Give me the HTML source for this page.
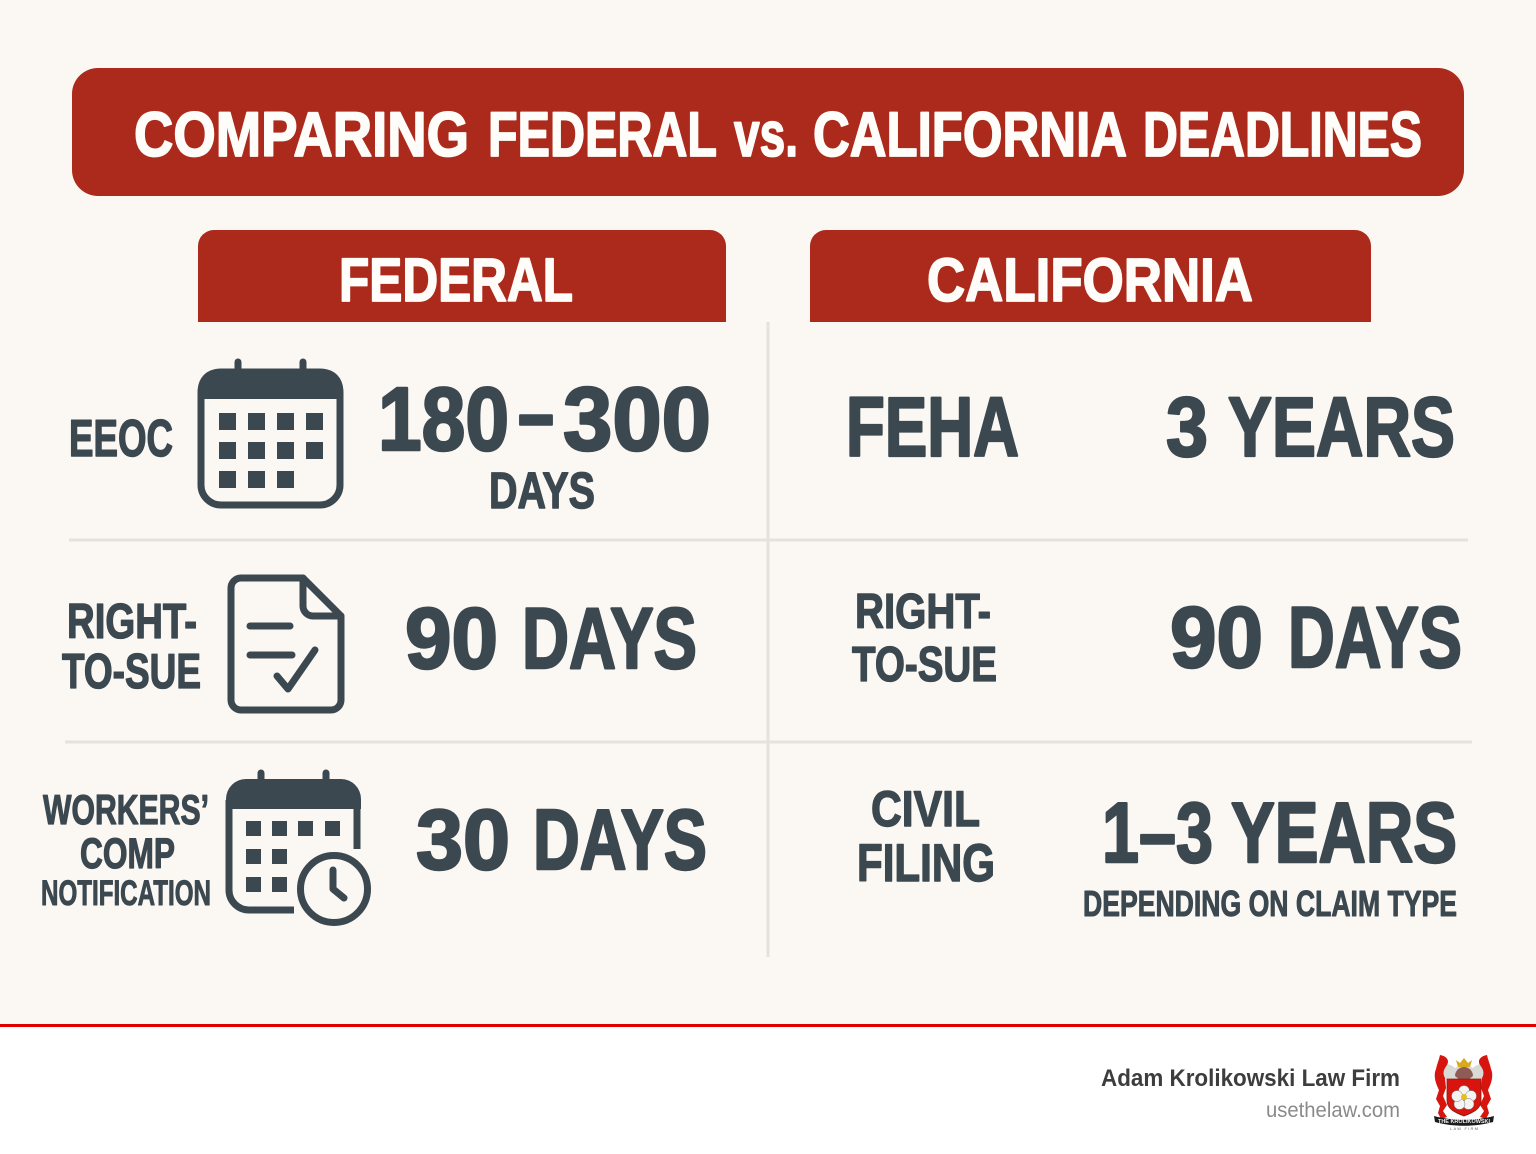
<!DOCTYPE html>
<html lang="en">
<head>
<meta charset="utf-8">
<title>Comparing Federal vs. California Deadlines</title>
<style>
html,body{margin:0;padding:0;background:#fbf8f3}
svg{display:block}
text{font-family:"Liberation Sans",sans-serif;font-weight:700;fill:#3c4850;stroke:#3c4850;stroke-width:.028em;stroke-linejoin:round}
text.w{fill:#fffdfa;stroke:#fffdfa}
text.f{stroke:none}
</style>
</head>
<body>
<svg xmlns="http://www.w3.org/2000/svg" width="1536" height="1154" viewBox="0 0 1536 1154">
<rect width="1536" height="1026" fill="#fbf8f3"/>
<rect x="72" y="68" width="1392" height="128" rx="26" fill="#ac2a1c"/>
<g>
<text class="w" x="134" y="156" font-size="63" textLength="335" lengthAdjust="spacingAndGlyphs">COMPARING</text>
<text class="w" x="488" y="156" font-size="63" textLength="229" lengthAdjust="spacingAndGlyphs">FEDERAL</text>
<text class="w" x="734" y="156" font-size="63" textLength="64" lengthAdjust="spacingAndGlyphs">vs.</text>
<text class="w" x="813" y="156" font-size="63" textLength="314" lengthAdjust="spacingAndGlyphs">CALIFORNIA</text>
<text class="w" x="1143" y="156" font-size="63" textLength="279" lengthAdjust="spacingAndGlyphs">DEADLINES</text>
</g>

<path d="M198 322V246a16 16 0 0 1 16-16H710a16 16 0 0 1 16 16V322Z" fill="#ac2a1c"/>
<text class="w" x="339" y="301" font-size="61" textLength="234" lengthAdjust="spacingAndGlyphs">FEDERAL</text>
<path d="M810 322V246a16 16 0 0 1 16-16H1355a16 16 0 0 1 16 16V322Z" fill="#ac2a1c"/>
<text class="w" x="927" y="301" font-size="61" textLength="326" lengthAdjust="spacingAndGlyphs">CALIFORNIA</text>

<g stroke="#e3e2dd" stroke-width="3" fill="none">
<path d="M768 322V957"/>
<path d="M69 540H1468"/>
<path d="M65 742H1472"/>
</g>

<!-- Row 1 -->
<text x="69" y="456" font-size="52" textLength="104" lengthAdjust="spacingAndGlyphs">EEOC</text>
<g>
<path d="M238 362V374M303 362V374" stroke="#3c4850" stroke-width="7" stroke-linecap="round"/>
<rect x="201" y="372" width="139" height="133" rx="20" fill="none" stroke="#3c4850" stroke-width="7"/>
<path d="M198 399V389a20 20 0 0 1 20-20H323a20 20 0 0 1 20 20V399Z" fill="#3c4850"/>
<g fill="#3c4850">
<rect x="219" y="413" width="17" height="17"/><rect x="248" y="413" width="17" height="17"/><rect x="277" y="413" width="17" height="17"/><rect x="306" y="413" width="17" height="17"/>
<rect x="219" y="442" width="17" height="17"/><rect x="248" y="442" width="17" height="17"/><rect x="277" y="442" width="17" height="17"/><rect x="306" y="442" width="17" height="17"/>
<rect x="219" y="471" width="17" height="17"/><rect x="248" y="471" width="17" height="17"/><rect x="277" y="471" width="17" height="17"/>
</g>
</g>
<g>
<text x="378" y="450" font-size="90" textLength="131" lengthAdjust="spacingAndGlyphs">180</text>
<text x="518" y="444" font-size="90" textLength="36" lengthAdjust="spacingAndGlyphs">–</text>
<text x="563" y="450" font-size="90" textLength="148" lengthAdjust="spacingAndGlyphs">300</text>
</g>
<text x="489" y="508" font-size="51" textLength="106" lengthAdjust="spacingAndGlyphs">DAYS</text>
<text x="846" y="456" font-size="84" textLength="173" lengthAdjust="spacingAndGlyphs">FEHA</text>
<g>
<text x="1166" y="456" font-size="84" textLength="42" lengthAdjust="spacingAndGlyphs">3</text>
<text x="1228" y="456" font-size="84" textLength="227" lengthAdjust="spacingAndGlyphs">YEARS</text>
</g>

<!-- Row 2 -->
<text x="67" y="638" font-size="49" textLength="130" lengthAdjust="spacingAndGlyphs">RIGHT-</text>
<text x="62" y="688" font-size="49" textLength="139" lengthAdjust="spacingAndGlyphs">TO-SUE</text>
<g fill="none" stroke="#3c4850" stroke-linecap="round" stroke-linejoin="round">
<path d="M303 578H241a10 10 0 0 0-10 10V700a10 10 0 0 0 10 10H331a10 10 0 0 0 10-10V616Z" stroke-width="7"/>
<path d="M303 578V606a10 10 0 0 0 10 10H341" stroke-width="7"/>
<path d="M250 626H290" stroke-width="7"/>
<path d="M250 655H292" stroke-width="7"/>
<path d="M277 676L288 689L315 650" stroke-width="7"/>
</g>
<g>
<text x="405" y="668" font-size="86" textLength="93" lengthAdjust="spacingAndGlyphs">90</text>
<text x="522" y="668" font-size="86" textLength="175" lengthAdjust="spacingAndGlyphs">DAYS</text>
</g>
<text x="855" y="628" font-size="49" textLength="136" lengthAdjust="spacingAndGlyphs">RIGHT-</text>
<text x="852" y="681" font-size="49" textLength="145" lengthAdjust="spacingAndGlyphs">TO-SUE</text>
<g>
<text x="1170" y="667" font-size="86" textLength="93" lengthAdjust="spacingAndGlyphs">90</text>
<text x="1288" y="667" font-size="86" textLength="174" lengthAdjust="spacingAndGlyphs">DAYS</text>
</g>

<!-- Row 3 -->
<text x="43" y="824" font-size="42" textLength="166" lengthAdjust="spacingAndGlyphs">WORKERS’</text>
<text x="80" y="868" font-size="43" textLength="95" lengthAdjust="spacingAndGlyphs">COMP</text>
<text x="41" y="905" font-size="35" textLength="170" lengthAdjust="spacingAndGlyphs">NOTIFICATION</text>
<g>
<path d="M261 773V785M326 773V785" stroke="#3c4850" stroke-width="7" stroke-linecap="round"/>
<path d="M229 800V890a20 20 0 0 0 20 20H294M357 800V849" fill="none" stroke="#3c4850" stroke-width="7"/>
<path d="M226 809V799a20 20 0 0 1 20-20H341a20 20 0 0 1 20 20V809Z" fill="#3c4850"/>
<g fill="#3c4850">
<rect x="246" y="821" width="15" height="15"/><rect x="272" y="821" width="15" height="15"/><rect x="298" y="821" width="15" height="15"/><rect x="325" y="821" width="15" height="15"/>
<rect x="246" y="849" width="15" height="15"/><rect x="272" y="849" width="15" height="15"/>
<rect x="246" y="877" width="15" height="15"/><rect x="272" y="877" width="15" height="15"/>
</g>
<circle cx="334" cy="889" r="33.5" fill="#fbf8f3" stroke="#3c4850" stroke-width="7"/>
<path d="M333 870V889L344 898" fill="none" stroke="#3c4850" stroke-width="7" stroke-linecap="round" stroke-linejoin="round"/>
</g>
<g>
<text x="416" y="869" font-size="85" textLength="94" lengthAdjust="spacingAndGlyphs">30</text>
<text x="533" y="869" font-size="85" textLength="174" lengthAdjust="spacingAndGlyphs">DAYS</text>
</g>
<text x="871" y="826" font-size="50" textLength="109" lengthAdjust="spacingAndGlyphs">CIVIL</text>
<text x="857" y="881" font-size="53" textLength="138" lengthAdjust="spacingAndGlyphs">FILING</text>
<g>
<text x="1102" y="862" font-size="85" textLength="111" lengthAdjust="spacingAndGlyphs">1–3</text>
<text x="1231" y="862" font-size="85" textLength="226" lengthAdjust="spacingAndGlyphs">YEARS</text>
</g>
<text x="1083" y="916" font-size="36" textLength="374" lengthAdjust="spacingAndGlyphs">DEPENDING ON CLAIM TYPE</text>

<!-- Footer -->
<rect y="1026" width="1536" height="128" fill="#ffffff"/>
<rect y="1024" width="1536" height="3" fill="#e00000"/>
<text class="f" x="1101" y="1086" font-size="24" textLength="299" lengthAdjust="spacingAndGlyphs" style="fill:#3d3d3d">Adam Krolikowski Law Firm</text>
<text class="f" x="1266" y="1117" font-size="21" textLength="134" lengthAdjust="spacingAndGlyphs" style="fill:#8a8a8a;font-weight:400">usethelaw.com</text>

<g>
<path d="M1441 1066c4-3 10-2 14 2 5-3 13-3 18 0 4-4 10-5 14-2l-3 12-4 2h-33l-4-3Z" fill="#d9d9d6"/>
<path d="M1440 1055c6 1 10 5 7 10-3 4-5 8-2 13l1 10-3 8 4 9-4 6 4 6-6 2-3-6 2-7-4-7 3-9c-3-6-6-14-3-21 1-5 3-9 4-14Z" fill="#d8140f"/>
<path d="M1487 1055c-6 1-10 5-7 10 3 4 5 8 2 13l-1 10 3 8-4 9 4 6-4 6 6 2 3-6-2-7 4-7-3-9c3-6 6-14 3-21-1-5-3-9-4-14Z" fill="#d8140f"/>
<path d="M1455 1076c0-5 4-9 9-9s9 4 9 9l-5 4h-8Z" fill="#8f5b55"/>
<path d="M1456 1060l4 3 4-5 4 5 4-3-2 7h-12Z" fill="#d6a91e"/>
<path d="M1447 1079h34v22c0 8-9 12-17 15-8-3-17-7-17-15Z" fill="#d8140f" stroke="#8a1a12" stroke-width=".8"/>
<g fill="#f4f4f2" stroke="#777" stroke-width=".5">
<circle cx="1464" cy="1091" r="5.5"/><circle cx="1471" cy="1096" r="5.5"/><circle cx="1468.5" cy="1104" r="5.5"/><circle cx="1459.5" cy="1104" r="5.5"/><circle cx="1457" cy="1096" r="5.5"/>
</g>
<circle cx="1464" cy="1097" r="3" fill="#e8c01a"/>
<path d="M1434 1116c18 5 42 5 60 0l-1 6c-18 5-40 5-58 0Z" fill="#1b1b1b"/>
<text class="f" x="1438" y="1123" font-size="5" textLength="52" lengthAdjust="spacingAndGlyphs" style="fill:#eee">THE KROLIKOWSKI</text>
<text class="f" x="1450" y="1130" font-size="4" textLength="28" lengthAdjust="spacing" style="fill:#666;font-weight:400">LAW FIRM</text>
</g>
</svg>
</body>
</html>
